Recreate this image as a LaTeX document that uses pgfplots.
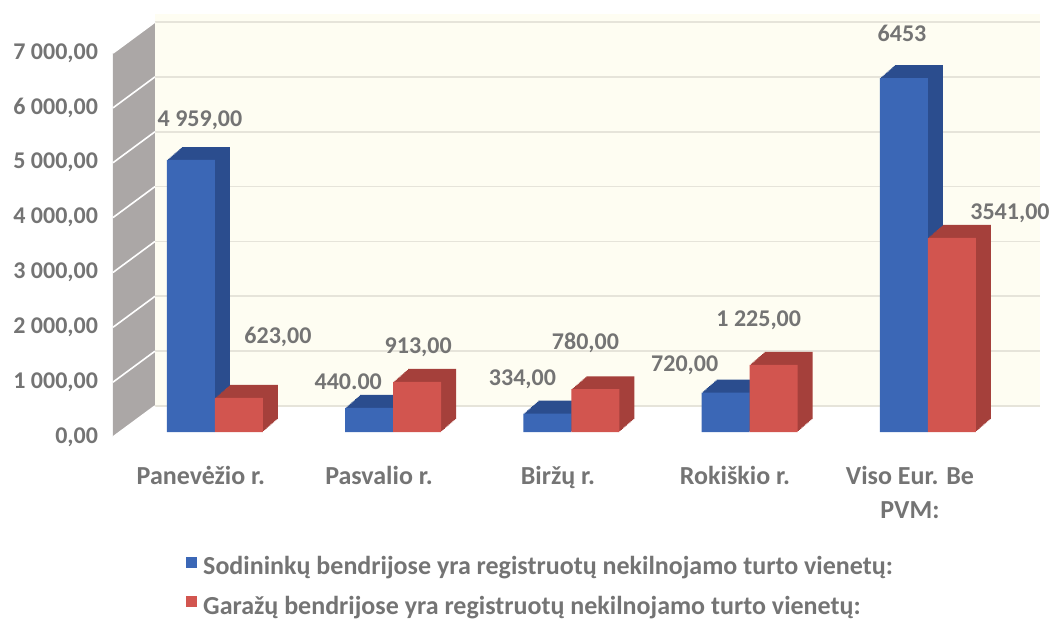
\documentclass[border=0pt]{standalone}
\usepackage{pgfplots}
\pgfplotsset{compat=1.18}
\usepackage{pgfplotstable}
\usepackage{fontspec}
\setmainfont{Carlito}
\definecolor{txt}{HTML}{747474}
\definecolor{blueF}{HTML}{3B67B6}
\definecolor{blueD}{HTML}{2B4D8E}
\definecolor{redF}{HTML}{D2554F}
\definecolor{redD}{HTML}{A5403B}
\definecolor{cream}{HTML}{FEFDF2}
\definecolor{wall}{HTML}{ABA7A6}
\definecolor{gridc}{HTML}{E6E4DA}

\pgfplotstableread[col sep=semicolon]{
x;a;alab;adx;ady;b;blab;bdx;bdy
0;4959;{4 959,00};4.5;20;623;{623,00};19.5;30.5
1;440;{440.00};-10.5;13;913;{913,00};0.5;17.5
2;334;{334,00};-12.5;17;780;{780,00};-5;23
3;720;{720,00};-20.5;13.5;1225;{1 225,00};-7.5;22.5
4;6453;{6453};-1;22.5;3541;{3541,00};29;12.5
}\data

\begin{document}
\begin{tikzpicture}
\begin{axis}[
  at={(0,0)}, anchor=south west,
  scale only axis, width=442.5pt, height=192pt,
  xmin=-0.561, xmax=4.404, ymin=0, ymax=7000,
  axis line style={draw=none}, tick style={draw=none},
  clip=false, set layers,
  ybar, bar width=24pt,
  ytick={0,1000,...,7000},
  scaled y ticks=false,
  yticklabel style={font=\fontsize{12}{14}\selectfont\bfseries, text=txt, xshift=-5pt,
    /pgf/number format/.cd, fixed, fixed zerofill, precision=2, use comma, 1000 sep={\ }, assume math mode=true},
  xtick={-0.079,0.92,1.924,2.917,3.899},
  xticklabels={Panevėžio r.,Pasvalio r.,Biržų r.,Rokiškio r.,{Viso Eur. Be\\PVM:}},
  xticklabel style={align=center, font=\fontsize{13}{17}\selectfont\bfseries, text=txt, yshift=-7pt},
  legend style={at={(0.08,-0.30)}, anchor=north west, draw=none, fill=none,
    font=\fontsize{13}{15}\selectfont\bfseries, text=txt, row sep=5pt, inner sep=0pt,
    /tikz/every odd column/.append style={column sep=1pt}},
  legend cell align=left,
  nodes near coords,
  point meta=explicit symbolic,
  every node near coord/.append style={font=\fontsize{12}{14}\selectfont\bfseries, text=txt, anchor=center},
]
\begin{pgfonlayer}{axis background}
  \fill[cream] ([xshift=20pt,yshift=15.5pt]rel axis cs:0,0) rectangle ([xshift=20pt,yshift=19.5pt]rel axis cs:1,1);
  \fill[wall] ([xshift=-1pt]rel axis cs:0,0) -- ([xshift=20pt,yshift=15.5pt]rel axis cs:0,0)
     -- ([xshift=20pt,yshift=15.5pt]rel axis cs:0,1) -- ([xshift=-1pt]rel axis cs:0,1) -- cycle;
  \pgfplotsinvokeforeach{0,1000,...,7000}{
    \draw[gridc, line width=0.8pt] ([xshift=20pt,yshift=15.5pt]axis cs:-0.561,#1) -- ([xshift=20pt,yshift=15.5pt]axis cs:4.404,#1);
    \draw[white, line width=0.8pt] ([xshift=-1pt]axis cs:-0.561,#1) -- ([xshift=20pt,yshift=15.5pt]axis cs:-0.561,#1);
  }
\end{pgfonlayer}

% blue series: depth copies then front face
\pgfplotsinvokeforeach{12,11,...,1}{
  \addplot[forget plot, fill=blueD, draw=none, bar shift=-12pt, xshift={0.625pt*#1}, yshift={2.5pt+0.54pt*#1}, nodes near coords=] table[x=x,y=a]{\data};
}
\addplot[fill=blueF, draw=none, bar shift=-12pt, yshift=2.5pt,
  legend image code/.code={\fill[blueF] (0pt,-2.8pt) rectangle (5.5pt,2.8pt);},
  visualization depends on={\thisrow{adx}\as\labdx},
  visualization depends on={\thisrow{ady}\as\labdy},
  every node near coord/.append style={xshift=\labdx pt, yshift=\labdy pt}]
  table[x=x,y=a,meta=alab]{\data};
\addlegendentry{Sodininkų bendrijose yra registruotų nekilnojamo turto vienetų:}

% red series
\pgfplotsinvokeforeach{12,11,...,1}{
  \addplot[forget plot, fill=redD, draw=none, bar shift=12pt, xshift={0.625pt*#1}, yshift={2.5pt+0.54pt*#1}, nodes near coords=] table[x=x,y=b]{\data};
}
\addplot[fill=redF, draw=none, bar shift=12pt, yshift=2.5pt,
  legend image code/.code={\fill[redF] (0pt,-2.8pt) rectangle (5.5pt,2.8pt);},
  visualization depends on={\thisrow{bdx}\as\labdx},
  visualization depends on={\thisrow{bdy}\as\labdy},
  every node near coord/.append style={xshift=\labdx pt, yshift=\labdy pt}]
  table[x=x,y=b,meta=blab]{\data};
\addlegendentry{Garažų bendrijose yra registruotų nekilnojamo turto vienetų:}
\end{axis}
\pgfresetboundingbox
\path[use as bounding box] (-57.5pt,-93pt) rectangle (467.5pt,218.5pt);
\end{tikzpicture}
\end{document}
